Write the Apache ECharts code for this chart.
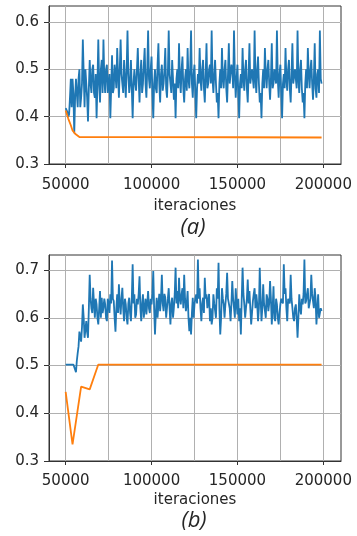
<!DOCTYPE html>
<html><head><meta charset="utf-8">
<script src="https://cdn.jsdelivr.net/npm/echarts@6/dist/echarts.min.js"></script>
<style>html,body{margin:0;padding:0;background:#fff}#c{width:357px;height:536px}</style>
</head><body><div id="c"></div>
<script>
const iterations = [
50000,50500,51000,51500,52000,52500,53000,53500,54000,54500,
55000,55500,56000,56500,57000,57500,58000,58500,59000,59500,
60000,60500,61000,61500,62000,62500,63000,63500,64000,64500,
65000,65500,66000,66500,67000,67500,68000,68500,69000,69500,
70000,70500,71000,71500,72000,72500,73000,73500,74000,74500,
75000,75500,76000,76500,77000,77500,78000,78500,79000,79500,
80000,80500,81000,81500,82000,82500,83000,83500,84000,84500,
85000,85500,86000,86500,87000,87500,88000,88500,89000,89500,
90000,90500,91000,91500,92000,92500,93000,93500,94000,94500,
95000,95500,96000,96500,97000,97500,98000,98500,99000,99500,
100000,100500,101000,101500,102000,102500,103000,103500,104000,104500,
105000,105500,106000,106500,107000,107500,108000,108500,109000,109500,
110000,110500,111000,111500,112000,112500,113000,113500,114000,114500,
115000,115500,116000,116500,117000,117500,118000,118500,119000,119500,
120000,120500,121000,121500,122000,122500,123000,123500,124000,124500,
125000,125500,126000,126500,127000,127500,128000,128500,129000,129500,
130000,130500,131000,131500,132000,132500,133000,133500,134000,134500,
135000,135500,136000,136500,137000,137500,138000,138500,139000,139500,
140000,140500,141000,141500,142000,142500,143000,143500,144000,144500,
145000,145500,146000,146500,147000,147500,148000,148500,149000,149500,
150000,150500,151000,151500,152000,152500,153000,153500,154000,154500,
155000,155500,156000,156500,157000,157500,158000,158500,159000,159500,
160000,160500,161000,161500,162000,162500,163000,163500,164000,164500,
165000,165500,166000,166500,167000,167500,168000,168500,169000,169500,
170000,170500,171000,171500,172000,172500,173000,173500,174000,174500,
175000,175500,176000,176500,177000,177500,178000,178500,179000,179500,
180000,180500,181000,181500,182000,182500,183000,183500,184000,184500,
185000,185500,186000,186500,187000,187500,188000,188500,189000,189500,
190000,190500,191000,191500,192000,192500,193000,193500,194000,194500,
195000,195500,196000,196500,197000,197500,198000,198500,199000];

const blueA = [
0.418,0.415,0.41,0.40,0.405,0.44,0.48,0.42,0.48,0.45,
0.365,0.44,0.48,0.45,0.42,0.48,0.5,0.42,0.44,0.47,
0.563,0.49,0.42,0.50,0.47,0.44,0.39,0.46,0.52,0.47,
0.45,0.50,0.51,0.45,0.44,0.49,0.397,0.47,0.563,0.47,
0.43,0.50,0.52,0.45,0.563,0.48,0.45,0.50,0.51,0.45,
0.47,0.49,0.397,0.46,0.53,0.45,0.46,0.51,0.49,0.46,
0.545,0.49,0.44,0.50,0.563,0.49,0.47,0.45,0.52,0.48,
0.44,0.50,0.582,0.49,0.45,0.47,0.52,0.46,0.397,0.47,
0.5,0.47,0.455,0.50,0.545,0.48,0.43,0.49,0.52,0.45,
0.47,0.51,0.545,0.47,0.44,0.50,0.582,0.48,0.46,0.50,
0.527,0.45,0.397,0.47,0.5,0.46,0.45,0.51,0.555,0.47,
0.43,0.49,0.51,0.455,0.47,0.50,0.545,0.46,0.44,0.49,
0.582,0.49,0.47,0.45,0.52,0.48,0.436,0.47,0.397,0.48,
0.5,0.46,0.555,0.48,0.45,0.50,0.527,0.46,0.43,0.48,
0.5,0.455,0.545,0.48,0.46,0.50,0.582,0.47,0.44,0.49,
0.51,0.45,0.397,0.46,0.49,0.47,0.545,0.48,0.455,0.50,
0.52,0.46,0.43,0.49,0.555,0.46,0.47,0.50,0.51,0.47,
0.582,0.48,0.45,0.49,0.52,0.47,0.43,0.45,0.397,0.47,
0.5,0.46,0.545,0.48,0.46,0.50,0.52,0.46,0.43,0.49,
0.555,0.47,0.47,0.51,0.5,0.46,0.582,0.49,0.44,0.48,
0.51,0.45,0.397,0.47,0.49,0.46,0.545,0.48,0.455,0.50,
0.52,0.46,0.43,0.49,0.555,0.47,0.47,0.50,0.5,0.46,
0.582,0.48,0.45,0.50,0.527,0.47,0.43,0.45,0.397,0.47,
0.5,0.46,0.545,0.49,0.46,0.50,0.52,0.47,0.436,0.48,
0.555,0.46,0.47,0.50,0.5,0.47,0.582,0.48,0.44,0.49,
0.51,0.45,0.397,0.47,0.49,0.46,0.545,0.48,0.455,0.50,
0.52,0.46,0.43,0.49,0.555,0.47,0.47,0.50,0.5,0.46,
0.582,0.48,0.45,0.50,0.52,0.46,0.43,0.45,0.397,0.47,
0.5,0.46,0.545,0.49,0.46,0.50,0.52,0.47,0.436,0.48,
0.555,0.46,0.44,0.49,0.5,0.45,0.582,0.48,0.47];

const orangeAX = [50000,51500,53000,54000,55500,58000,100000,150000,199000];
const orangeA  = [0.413,0.396,0.382,0.371,0.364,0.357,0.357,0.3565,0.356];

const blueB = [
0.502,0.502,0.502,0.502,0.502,0.502,0.502,0.502,0.502,0.502,
0.502,0.502,0.486,0.51,0.526,0.54,0.571,0.56,0.55,0.58,
0.628,0.6,0.558,0.575,0.593,0.57,0.558,0.62,0.69,0.64,
0.62,0.61,0.663,0.63,0.6,0.64,0.628,0.6,0.586,0.62,
0.656,0.6,0.642,0.61,0.621,0.64,0.628,0.6,0.593,0.64,
0.63,0.61,0.649,0.63,0.72,0.64,0.635,0.6,0.571,0.62,
0.649,0.61,0.67,0.63,0.607,0.64,0.663,0.62,0.593,0.64,
0.628,0.6,0.586,0.63,0.642,0.61,0.593,0.64,0.712,0.63,
0.649,0.6,0.607,0.64,0.628,0.65,0.687,0.62,0.593,0.63,
0.649,0.6,0.62,0.64,0.607,0.63,0.656,0.62,0.61,0.64,
0.628,0.65,0.698,0.62,0.565,0.61,0.642,0.6,0.628,0.65,
0.614,0.64,0.69,0.63,0.614,0.65,0.642,0.6,0.621,0.64,
0.662,0.62,0.586,0.63,0.642,0.6,0.621,0.65,0.705,0.63,
0.656,0.62,0.684,0.64,0.628,0.65,0.662,0.62,0.69,0.64,
0.614,0.63,0.656,0.6,0.572,0.6,0.565,0.61,0.642,0.6,
0.628,0.64,0.649,0.63,0.722,0.64,0.662,0.62,0.593,0.63,
0.642,0.61,0.684,0.64,0.649,0.62,0.635,0.65,0.593,0.62,
0.586,0.6,0.649,0.63,0.628,0.6,0.662,0.64,0.715,0.62,
0.565,0.6,0.662,0.64,0.628,0.6,0.628,0.65,0.694,0.64,
0.642,0.62,0.593,0.63,0.677,0.64,0.621,0.6,0.662,0.63,
0.607,0.64,0.593,0.62,0.565,0.64,0.705,0.65,0.628,0.6,
0.621,0.64,0.68,0.63,0.656,0.62,0.586,0.61,0.635,0.65,
0.662,0.62,0.649,0.63,0.593,0.62,0.705,0.64,0.593,0.62,
0.67,0.63,0.628,0.6,0.649,0.64,0.614,0.63,0.677,0.64,
0.586,0.62,0.666,0.6,0.593,0.64,0.628,0.6,0.586,0.61,
0.628,0.64,0.642,0.63,0.712,0.65,0.662,0.62,0.593,0.64,
0.642,0.63,0.69,0.64,0.621,0.6,0.593,0.62,0.628,0.6,
0.558,0.6,0.649,0.62,0.607,0.64,0.628,0.65,0.722,0.63,
0.635,0.65,0.662,0.62,0.621,0.64,0.69,0.65,0.649,0.62,
0.662,0.64,0.586,0.62,0.649,0.6,0.6,0.62,0.614];

const orangeBX = [50000,54000,59000,64000,69000,199000];
const orangeB  = [0.445,0.335,0.456,0.45,0.502,0.502];

const xTickValues = [50000,100000,150000,200000];
const xGridValues = [50000,75000,100000,125000,150000,175000,200000];
const yTickA = [0.3,0.4,0.5,0.6];
const yTickB = [0.3,0.4,0.5,0.6,0.7];
const yGridA = [0.4,0.5,0.6];
const yGridB = [0.4,0.5,0.6,0.7];
const xName = 'iteraciones';
const captions = ['(a)','(b)'];

const BLUE = '#1f77b4', ORANGE = '#ff7f0e', GRID = '#b0b0b0', AX = '#333', TXT = '#262626';
const FONT = 'DejaVu Sans';

function pairs(xs, ys){ return xs.map((x,i)=>[x, ys[i]]); }

function xAxisCfg(idx, margin, gap){
  return {
    gridIndex: idx, type:'value', min:40300, max:210300,
    axisLine:{show:true, lineStyle:{color:AX, width:1}},
    axisTick:{show:true, customValues:xTickValues, length:4, lineStyle:{color:AX}},
    axisLabel:{customValues:xTickValues, formatter:v=>String(v), fontFamily:FONT, fontSize:15, color:TXT, margin:margin},
    splitLine:{show:false},
    name:xName, nameLocation:'middle', nameGap:gap,
    nameTextStyle:{fontFamily:FONT, fontSize:15, color:TXT}
  };
}
function yAxisCfg(idx, max, ticks){
  return {
    gridIndex: idx, type:'value', min:0.3, max:max,
    axisLine:{show:true, lineStyle:{color:AX, width:1}},
    axisTick:{show:true, customValues:ticks, length:5, lineStyle:{color:AX}},
    axisLabel:{customValues:ticks, formatter:v=>v.toFixed(1), fontFamily:FONT, fontSize:15, color:TXT, margin:10},
    splitLine:{show:false}
  };
}
function gridSeries(idx, yGrid){
  return {
    type:'line', xAxisIndex:idx, yAxisIndex:idx, data:[], z:1, silent:true,
    markLine:{silent:true, symbol:'none', z:1, animation:false,
      label:{show:false}, lineStyle:{color:GRID, width:1, type:'solid'},
      emphasis:{disabled:true},
      data:[...xGridValues.map(v=>({xAxis:v})), ...yGrid.map(v=>({yAxis:v}))]}
  };
}
function lineSeries(idx, data, color, z, w){
  return {type:'line', xAxisIndex:idx, yAxisIndex:idx, data:data, showSymbol:false,
    symbol:'none', z:z, lineStyle:{color:color, width:w}, itemStyle:{color:color}};
}

const chart = echarts.init(document.getElementById('c'), null, {renderer:'canvas'});
chart.setOption({
  animation:false,
  backgroundColor:'#fff',
  grid:[
    {left:49, top:6, width:292, height:158, show:true, borderColor:AX, borderWidth:1, backgroundColor:'transparent'},
    {left:49, top:255, width:292, height:206, show:true, borderColor:AX, borderWidth:1, backgroundColor:'transparent'}
  ],
  xAxis:[xAxisCfg(0, 14, 35), xAxisCfg(1, 13, 32)],
  yAxis:[yAxisCfg(0, 0.634, yTickA), yAxisCfg(1, 0.7315, yTickB)],
  series:[
    gridSeries(0, yGridA), gridSeries(1, yGridB),
    lineSeries(0, pairs(iterations, blueA), BLUE, 3, 1.8),
    lineSeries(0, pairs(orangeAX, orangeA), ORANGE, 4, 1.8),
    lineSeries(1, pairs(iterations, blueB), BLUE, 3, 1.8),
    lineSeries(1, pairs(orangeBX, orangeB), ORANGE, 4, 1.8)
  ],
  graphic:[
    {type:'text', x:193, y:228, style:{text:captions[0], fontFamily:'Open Sans', fontStyle:'italic', fontSize:22, fill:TXT, align:'center', verticalAlign:'middle'}},
    {type:'text', x:194, y:521, style:{text:captions[1], fontFamily:'Open Sans', fontStyle:'italic', fontSize:22, fill:TXT, align:'center', verticalAlign:'middle'}}
  ]
});
</script></body></html>
